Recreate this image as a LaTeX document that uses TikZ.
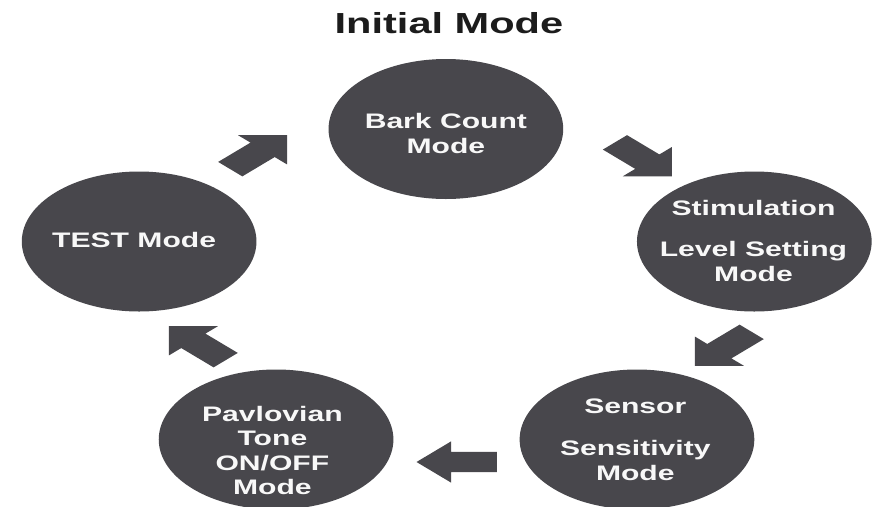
\documentclass[tikz,border=0pt]{standalone}
\usepackage{fontspec}
\setmainfont{Liberation Sans}
\usetikzlibrary{shapes.arrows}
\definecolor{modegray}{RGB}{72,71,76}
\definecolor{titleink}{RGB}{28,28,28}
\definecolor{labelink}{RGB}{248,248,248}
\begin{document}
\begin{tikzpicture}[x=1pt,y=-1pt,xscale=1.67625,
  every node/.style={transform shape},
  modecircle/.style={circle, fill=modegray, minimum size=140pt, inner sep=0pt},
  modetext/.style={align=center, text=labelink, inner sep=0pt, xscale=0.855,
    font=\bfseries\fontsize{21}{24.5}\selectfont},
  titletext/.style={text=titleink, inner sep=0pt, xscale=0.855,
    font=\bfseries\fontsize{29}{34}\selectfont},
  blockarrow/.style={single arrow, fill=modegray, inner xsep=0pt, inner ysep=10pt,
    minimum height=48pt, single arrow head extend=10.5pt,
    single arrow tip angle=90, anchor=tip}
]
\fill[white] (0,0) rectangle (522,507);
\useasboundingbox (0,0) rectangle (522,507);

% title
\node[titletext] (title) at (267.8,22.8) {Initial Mode};

% mode circles
\node[modecircle] (bark) at (266,129) {};
\node[modecircle] (stim) at (450,241.5) {};
\node[modecircle] (sens) at (380,439.5) {};
\node[modecircle] (pav)  at (164.7,439.5) {};
\node[modecircle] (test) at (83,241.5) {};

% labels
\node[modetext] (bark-t) at (266,133.7) {Bark Count\\Mode};
\node[modetext] (test-t) at (80,240.2) {TEST Mode};
\node[modetext] (stim-t) at (449.5,240.8) {Stimulation\\[17.2pt]Level Setting\\Mode};
\node[modetext] (sens-t) at (379,439.5) {Sensor\\[18.2pt]Sensitivity\\Mode};
\node[modetext] (pav-t)  at (162.5,450.5) {Pavlovian\\Tone\\ON/OFF\\Mode};

% block arrows
\node[blockarrow, rotate=45]   (a1) at (171.5,135) {};
\node[blockarrow, rotate=-45]  (a2) at (401,176.5) {};
\node[blockarrow, rotate=-135] (a3) at (414.3,366) {};
\node[blockarrow, rotate=180]  (a4) at (248.2,462) {};
\node[blockarrow, rotate=135]  (a5) at (100.5,326) {};
\end{tikzpicture}
\end{document}
